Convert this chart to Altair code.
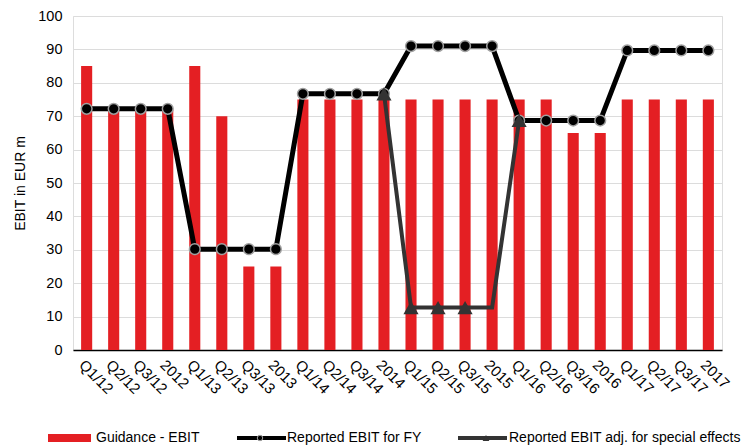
import altair as alt
import pandas as pd

FONT = "Liberation Sans"

# Reporting periods (quarters and full years)
periods = [
    "Q1/12", "Q2/12", "Q3/12", "2012",
    "Q1/13", "Q2/13", "Q3/13", "2013",
    "Q1/14", "Q2/14", "Q3/14", "2014",
    "Q1/15", "Q2/15", "Q3/15", "2015",
    "Q1/16", "Q2/16", "Q3/16", "2016",
    "Q1/17", "Q2/17", "Q3/17", "2017",
]

# EBIT guidance given in each period (EUR m)
guidance = [85, 72, 72, 72, 85, 70, 25, 25, 75, 75, 75, 75,
            75, 75, 75, 75, 75, 75, 65, 65, 75, 75, 75, 75]

# Reported EBIT for the financial year (EUR m)
reported = [72.2, 72.2, 72.2, 72.2, 30.2, 30.2, 30.2, 30.2,
            76.7, 76.7, 76.7, 76.7, 91.0, 91.0, 91.0, 91.0,
            68.7, 68.7, 68.7, 68.7, 89.7, 89.7, 89.7, 89.7]

# Reported EBIT adjusted for special effects (EUR m), only for 2014-Q1/16
adjusted = [None] * 11 + [76.7, 12.7, 12.7, 12.7, 12.7, 68.7] + [None] * 7
adjusted_marked = [False] * 11 + [True, True, True, True, False, True] + [False] * 7

df = pd.DataFrame({
    "period": periods,
    "guidance": guidance,
    "reported": reported,
    "adjusted": adjusted,
    "marked": adjusted_marked,
})

x_enc = alt.X(
    "period:N",
    sort=periods,
    scale=alt.Scale(paddingInner=0.59, paddingOuter=0.3),
    axis=alt.Axis(
        title=None, labelAngle=45, labelAlign="left", labelBaseline="top",
        ticks=False, domainColor="#000000", domainWidth=1.5,
        labelFont=FONT, labelFontSize=15, labelColor="#000000", labelPadding=7,
        labelOverlap=False,
    ),
)
y_scale = alt.Scale(domain=[0, 100], nice=False)
y_axis = alt.Axis(
    title="EBIT in EUR m", values=list(range(0, 101, 10)),
    domain=False, ticks=False, grid=True, gridColor="#dcdcdc",
    labelFont=FONT, labelFontSize=14.5, labelColor="#000000", labelPadding=11,
    labelOverlap=False,
    titleFont=FONT, titleFontSize=14, titleFontWeight="normal", titleColor="#000000",
    titlePadding=10,
)


def y_of(field):
    return alt.Y(f"{field}:Q", scale=y_scale, axis=y_axis)


base = alt.Chart(df)

bars = base.mark_bar(color="#e41f23").encode(x=x_enc, y=y_of("guidance"))

rep_line = base.mark_line(color="#000000", strokeWidth=5).encode(
    x=x_enc, y=y_of("reported")
)
rep_pts = base.mark_point(
    shape="circle", filled=True, fill="#000000", stroke="#a0a0a0",
    strokeWidth=1.5, size=115, opacity=1,
).encode(x=x_enc, y=y_of("reported"))

adj = base.transform_filter("datum.adjusted != null")
adj_line = adj.mark_line(color="#333333", strokeWidth=4).encode(
    x=x_enc, y=y_of("adjusted")
)
adj_pts = adj.transform_filter("datum.marked").mark_point(
    shape="triangle-up", filled=True, fill="#333333", size=230, opacity=1,
).encode(x=x_enc, y=y_of("adjusted"))

# Legend row drawn below the axis labels
one = pd.DataFrame({"k": [0]})
LY = 422
leg_bar = alt.Chart(one).mark_rule(color="#e41f23", strokeWidth=8).encode(
    x=alt.value(-25), x2=alt.value(18), y=alt.value(LY)
)
leg_rep = alt.Chart(one).mark_rule(color="#000000", strokeWidth=4).encode(
    x=alt.value(164), x2=alt.value(213), y=alt.value(LY)
)
leg_rep_pt = alt.Chart(one).mark_point(
    shape="circle", filled=True, fill="#000000", stroke="#a0a0a0",
    strokeWidth=1, size=30, opacity=1,
).encode(x=alt.value(187), y=alt.value(LY))
leg_adj = alt.Chart(one).mark_rule(color="#333333", strokeWidth=4).encode(
    x=alt.value(385), x2=alt.value(434), y=alt.value(LY)
)
leg_adj_pt = alt.Chart(one).mark_point(
    shape="triangle-up", filled=True, fill="#333333", size=45, opacity=1,
).encode(x=alt.value(413), y=alt.value(LY))

legend_df = pd.DataFrame({
    "label": ["Guidance - EBIT", "Reported EBIT for FY", "Reported EBIT adj. for special effects"],
    "pos": [23, 214, 436],
})
leg_text = alt.Chart(legend_df).mark_text(
    font=FONT, fontSize=14, align="left", baseline="middle", color="#000000"
).encode(x=alt.X("pos:Q", scale=None), y=alt.value(LY), text="label:N")

chart = alt.layer(
    bars, rep_line, rep_pts, adj_line, adj_pts,
    leg_bar, leg_rep, leg_rep_pt, leg_adj, leg_adj_pt, leg_text,
).resolve_scale(x="shared").properties(
    width=649, height=334,
    autosize=alt.AutoSizeParams(type="none"),
    padding={"left": 73, "top": 16, "right": 25, "bottom": 97},
).configure_view(stroke=None).configure(background="white")

chart.save("out.html", embed_options={"renderer": "svg", "actions": False})
